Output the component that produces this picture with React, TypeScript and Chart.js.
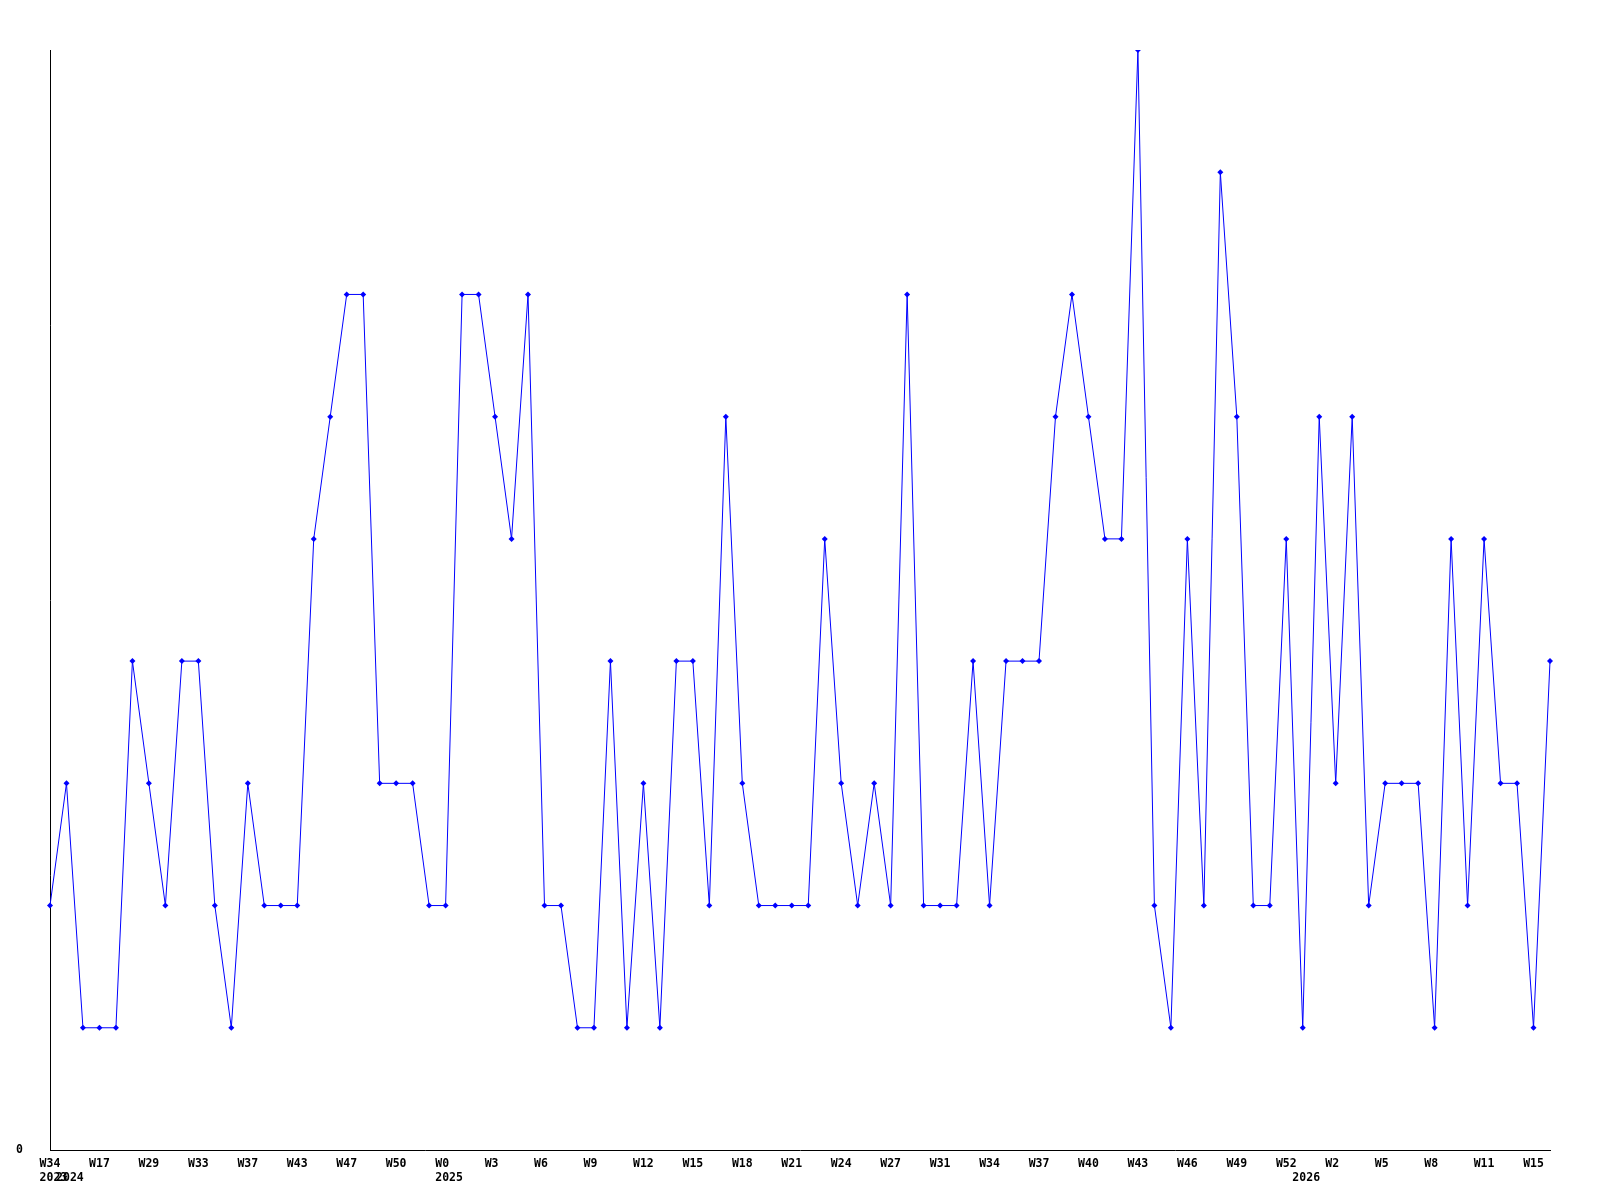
import React, { useEffect, useRef } from "react";
import { Chart, registerables } from "chart.js";

Chart.register(...registerables);

// Weekly counts (one point per week)
const values: number[] = [
  2, 3, 1, 1, 1, 4, 3, 2, 4, 4,
  2, 1, 3, 2, 2, 2, 5, 6, 7, 7,
  3, 3, 3, 2, 2, 7, 7, 6, 5, 7,
  2, 2, 1, 1, 4, 1, 3, 1, 4, 4,
  2, 6, 3, 2, 2, 2, 2, 5, 3, 2,
  3, 2, 7, 2, 2, 2, 4, 2, 4, 4,
  4, 6, 7, 6, 5, 5, 9, 2, 1, 5,
  2, 8, 6, 2, 2, 5, 1, 6, 3, 6,
  2, 3, 3, 3, 1, 5, 2, 5, 3, 3,
  1, 4,
];

// Tick labels shown on every third week
const tickLabels: string[] = [
  "W34", "W17", "W29", "W33", "W37", "W43", "W47", "W50", "W0", "W3",
  "W6", "W9", "W12", "W15", "W18", "W21", "W24", "W27", "W31", "W34",
  "W37", "W40", "W43", "W46", "W49", "W52", "W2", "W5", "W8", "W11",
  "W15",
];

// Year labels and the week index where each is printed
const yearLabels: string[] = ["2023", "2024", "2025", "2026"];
const yearPositions: number[] = [0, 1, 24, 76];

const categories: string[] = values.map((_, i) =>
  i % 3 === 0 ? tickLabels[i / 3] ?? "" : ""
);

const FONT = "'DejaVu Sans Mono', monospace";
const FONT_SIZE = 11.5;

const yearPlugin = {
  id: "yearLabels",
  afterDraw(chart: any) {
    const ctx = chart.ctx;
    const xs = chart.scales.x;
    ctx.save();
    ctx.font = `bold ${FONT_SIZE}px ${FONT}`;
    const cw = ctx.measureText("0").width;
    ctx.fillStyle = "#000";
    ctx.textAlign = "left";
    ctx.textBaseline = "middle";
    yearLabels.forEach((t, i) => {
      const x = xs.getPixelForValue(yearPositions[i]) - 1.5 * cw;
      ctx.fillText(t, x, 1178);
    });
    ctx.restore();
  },
};

export default function App() {
  const ref = useRef<HTMLCanvasElement>(null);
  useEffect(() => {
    if (!ref.current) return;
    const chart = new Chart(ref.current, {
      type: "line",
      data: {
        labels: categories,
        datasets: [
          {
            data: values,
            borderColor: "#0000ff",
            backgroundColor: "#0000ff",
            borderWidth: 1,
            pointStyle: "rectRot",
            pointRadius: 3,
            pointBorderWidth: 0,
            tension: 0,
            fill: false,
          },
        ],
      },
      plugins: [yearPlugin],
      options: {
        responsive: false,
        animation: false,
        layout: { padding: { left: 0, right: 50, top: 50, bottom: 0 } },
        plugins: {
          legend: { display: false },
          tooltip: { enabled: false },
          title: { display: false },
        },
        scales: {
          x: {
            type: "category",
            offset: false,
            grid: { display: false, drawTicks: false },
            border: { display: true, color: "#000", width: 1 },
            ticks: {
              autoSkip: false,
              maxRotation: 0,
              minRotation: 0,
              padding: 7,
              color: "#000",
              font: { family: FONT, size: FONT_SIZE, weight: "bold" },
              callback: (_v: any, i: number) => {
                const l = categories[i];
                return l ? l.padEnd(3, " ") : "";
              },
            },
            afterFit: (s: any) => {
              s.height = 50;
            },
          },
          y: {
            min: 0,
            max: 9,
            grid: { display: false, drawTicks: false },
            border: { display: true, color: "#000", width: 1 },
            ticks: {
              padding: 27,
              color: "#000",
              font: { family: FONT, size: FONT_SIZE, weight: "bold" },
            },
            afterBuildTicks: (s: any) => {
              s.ticks = [{ value: 0 }];
            },
            afterFit: (s: any) => {
              s.width = 50;
            },
          },
        },
      },
    });
    return () => chart.destroy();
  }, []);
  return (
    <div style={{ position: "fixed", left: 0, top: 0, width: 1600, height: 1200, background: "#fff" }}>
      <canvas ref={ref} width={1600} height={1200} />
    </div>
  );
}
